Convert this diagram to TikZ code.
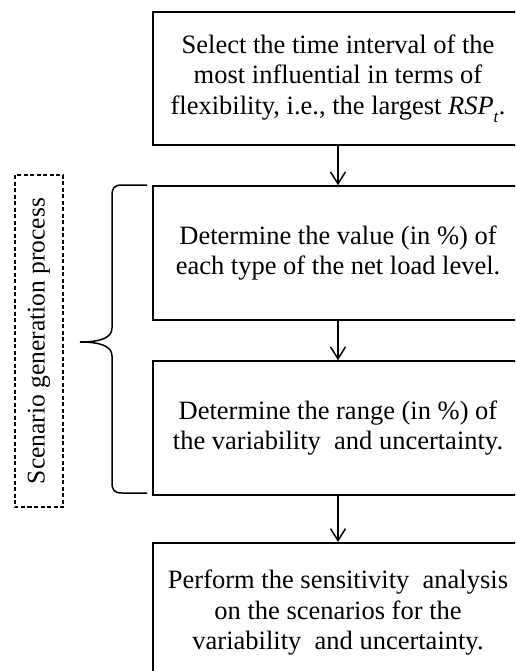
\documentclass[tikz,border=0pt]{standalone}
\usepackage{fontspec}
\setmainfont{Liberation Serif}
\usetikzlibrary{arrows.meta}
\begin{document}
\begin{tikzpicture}[x=1pt,y=-1pt,
  stepbox/.style={draw,line width=1.5pt,minimum width=370pt,align=center,
    font=\fontsize{26.5}{30.5}\selectfont,inner sep=0pt},
  flow/.style={line width=1.5pt,-{Straight Barb[length=12pt,width=15pt,line width=1.5pt]}},
  grouplabel/.style={draw,dashed,dash pattern=on 4pt off 2.5pt,line width=1.2pt,rotate=90,
    minimum width=332pt,minimum height=48pt,inner sep=0pt,
    font=\fontsize{25.5}{30}\selectfont}
]
\clip (0,0) rectangle (515,671);
\node[stepbox,minimum height=133pt] (b1) at (338,78.5)
  {Select the time interval of the\\most influential in terms of\\flexibility, i.e., the largest \textit{RSP}\raisebox{-0.3em}{\fontsize{17}{17}\selectfont\textit{t}}.};
\node[stepbox,minimum height=134pt] (b2) at (338,253)
  {Determine the value (in \%) of\\each type of the net load level.};
\node[stepbox,minimum height=134pt] (b3) at (338,428)
  {Determine the range (in \%) of\\the variability\ \ and uncertainty.};
\node[stepbox,minimum height=140pt,anchor=north] (b4) at (338,542)
  {Perform the sensitivity\ \ analysis\\on the scenarios for the\\variability\ \ and uncertainty.};
\draw[flow] (b1.south) -- (b2.north);
\draw[flow] (b2.south) -- (b3.north);
\draw[flow] (b3.south) -- (b4.north);
\node[grouplabel] (g) at (39,341) {Scenario generation process};
\coordinate (bt) at (147,185);
\coordinate (bb) at (147,493);
\coordinate (tip) at (80,342);
\draw[line width=1.5pt] (bt) -- (122,185) .. controls (114,185) and (112,188) .. (112,196)
  -- (112,328) .. controls (112,338) and (100,342) .. (tip)
  .. controls (100,342) and (112,346) .. (112,356)
  -- (112,482) .. controls (112,490) and (114,493) .. (122,493) -- (bb);
\end{tikzpicture}
\end{document}
